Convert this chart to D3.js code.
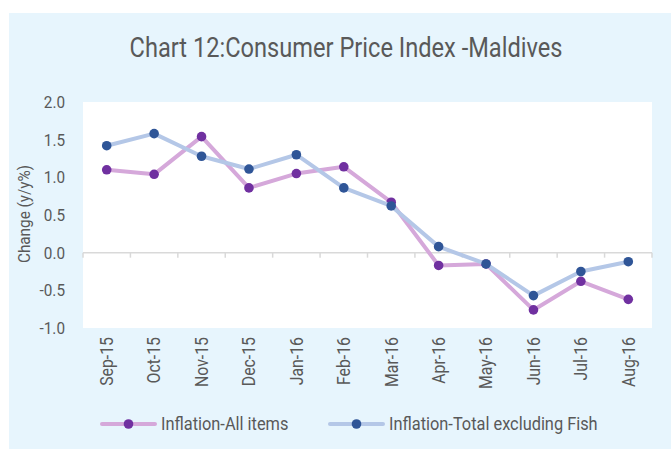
<!DOCTYPE html>
<html>
<head>
<meta charset="utf-8">
<script src="https://cdn.jsdelivr.net/npm/d3@7"></script>
<style>
  html, body { margin: 0; padding: 0; background: #fff; }
  svg { display: block; font-family: Roboto, "Noto Sans", sans-serif; }
</style>
</head>
<body>
<div id="chart"></div>
<script>
(function () {
  'use strict';

  var months = ['Sep-15', 'Oct-15', 'Nov-15', 'Dec-15', 'Jan-16', 'Feb-16',
                'Mar-16', 'Apr-16', 'May-16', 'Jun-16', 'Jul-16', 'Aug-16'];
  var allItems = [1.10, 1.04, 1.54, 0.86, 1.05, 1.14, 0.67, -0.17, -0.15, -0.76, -0.38, -0.62];
  var exFish = [1.42, 1.58, 1.28, 1.11, 1.30, 0.86, 0.62, 0.08, -0.15, -0.57, -0.25, -0.12];
  var yTicks = [-1.0, -0.5, 0.0, 0.5, 1.0, 1.5, 2.0];
  var seriesNames = ['Inflation-All items', 'Inflation-Total excluding Fish'];

  var W = 671, H = 449;
  var margin = { top: 102, right: 19, bottom: 121, left: 83 };
  var iw = W - margin.left - margin.right;
  var ih = H - margin.top - margin.bottom;
  var textCol = '#595959';

  var series = [
    { name: seriesNames[0], values: allItems, line: '#d5a8da', dot: '#7030a0' },
    { name: seriesNames[1], values: exFish, line: '#b4c7e7', dot: '#2f5597' }
  ];

  var svg = d3.select('#chart').append('svg').attr('width', W).attr('height', H);

  svg.append('rect').attr('x', 9).attr('y', 13).attr('width', W - 9).attr('height', H - 13)
    .attr('fill', '#e7f5fd');
  svg.append('rect').attr('x', margin.left).attr('y', margin.top).attr('width', iw).attr('height', ih)
    .attr('fill', '#fff');

  // no condensed Roboto installed, so squeeze text horizontally
  function label(sel, x, y, rot, sq) {
    return sel.attr('transform', 'translate(' + x + ',' + y + ')' + (rot ? ' rotate(' + rot + ')' : '') +
      ' scale(' + sq + ',1)');
  }

  label(svg.append('text'), 346, 57, 0, 0.875)
    .attr('text-anchor', 'middle').attr('font-size', 27).attr('fill', textCol)
    .text('Chart 12:Consumer Price Index -Maldives');

  var x = d3.scaleBand().domain(months).range([0, iw]);
  var y = d3.scaleLinear().domain([-1, 2]).range([ih, 0]);

  var g = svg.append('g').attr('transform', 'translate(' + margin.left + ',' + margin.top + ')');

  // y tick labels
  g.selectAll('text.ytick').data(yTicks).enter().append('text')
    .attr('class', 'ytick')
    .each(function (d) { label(d3.select(this), -18, y(d), 0, 0.9); })
    .attr('text-anchor', 'end').attr('dy', '0.35em')
    .attr('font-size', 17).attr('fill', textCol)
    .text(function (d) { return d.toFixed(1); });

  label(svg.append('text'), 30, 214, -90, 0.9)
    .attr('text-anchor', 'middle').attr('font-size', 17).attr('fill', textCol)
    .text('Change (y/y%)');

  // zero axis with ticks at band edges
  var axis = g.append('g').attr('transform', 'translate(0,' + y(0) + ')');
  axis.append('line').attr('x1', 0).attr('x2', iw).attr('stroke', '#d9d9d9').attr('stroke-width', 1.5);
  axis.selectAll('line.tk').data(months.concat([null])).enter().append('line')
    .attr('class', 'tk')
    .attr('x1', function (d, i) { return i * x.step(); })
    .attr('x2', function (d, i) { return i * x.step(); })
    .attr('y1', 0).attr('y2', 5)
    .attr('stroke', '#d9d9d9').attr('stroke-width', 1.5);

  // month labels under plot
  g.selectAll('text.xlab').data(months).enter().append('text')
    .attr('class', 'xlab')
    .each(function (d) { label(d3.select(this), x(d) + x.bandwidth() / 2, ih + 9, -90, 0.88); })
    .attr('text-anchor', 'end').attr('dy', '0.35em')
    .attr('font-size', 18).attr('fill', textCol)
    .text(function (d) { return d; });

  var line = d3.line()
    .x(function (d, i) { return x(months[i]) + x.bandwidth() / 2; })
    .y(function (d) { return y(d); });

  series.forEach(function (s) {
    g.append('path').datum(s.values)
      .attr('d', line).attr('fill', 'none')
      .attr('stroke', s.line).attr('stroke-width', 4).attr('stroke-linejoin', 'round');
    g.selectAll(null).data(s.values).enter().append('circle')
      .attr('cx', function (d, i) { return x(months[i]) + x.bandwidth() / 2; })
      .attr('cy', function (d) { return y(d); })
      .attr('r', 4.8).attr('fill', s.dot);
  });

  // legend
  var legX = [102, 330];
  series.forEach(function (s, i) {
    var lg = svg.append('g').attr('transform', 'translate(' + legX[i] + ',424)');
    lg.append('line').attr('x1', 0).attr('x2', 53).attr('stroke', s.line).attr('stroke-width', 4)
      .attr('stroke-linecap', 'round');
    lg.append('circle').attr('cx', 26.5).attr('r', 4.8).attr('fill', s.dot);
    label(lg.append('text'), 59, 0, 0, 0.91)
      .attr('dy', '0.35em').attr('font-size', 18).attr('fill', textCol)
      .text(s.name);
  });
})();
</script>
</body>
</html>
